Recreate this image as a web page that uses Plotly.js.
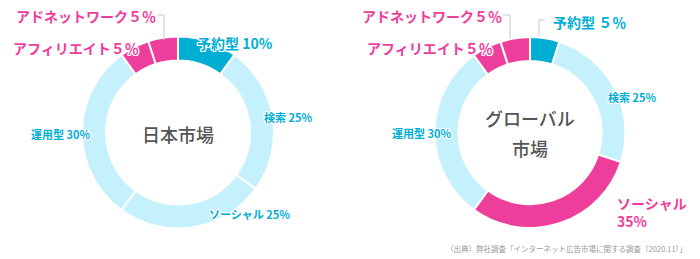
<!DOCTYPE html>
<html><head><meta charset="utf-8">
<script src="https://cdn.plot.ly/plotly-3.0.1.min.js"></script>
<style>html,body{margin:0;padding:0;background:#fff}#chart{width:700px;height:259px}</style>
</head><body><div id="chart"></div>
<script>
// Data
const categories = ["予約型", "検索", "ソーシャル", "運用型", "アフィリエイト", "アドネットワーク"];
const japanValues = [10, 25, 25, 30, 5, 5];
const globalValues = [5, 25, 30, 30, 5, 5];   // drawn slice sizes
const japanLabels = ["予約型 10%", "検索 25%", "ソーシャル 25%", "運用型 30%", "アフィリエイト５％", "アドネットワーク５％"];
const globalLabels = ["予約型 ５％", "検索 25%", "ソーシャル<br>35%", "運用型 30%", "アフィリエイト５％", "アドネットワーク５％"];
const centerTitles = ["日本市場", "グローバル", "市場"];
const sourceNote = "（出典）弊社調査「インターネット広告市場に関する調査（2020.11）」";

const W = 700, H = 259;
const DARK = "#00AED4", LIGHT = "#C5F1FC", PINK = "#EE3E9C";
const FONT = "Noto Sans CJK JP";
const japanColors = [DARK, LIGHT, LIGHT, LIGHT, PINK, PINK];
const globalColors = [DARK, LIGHT, PINK, LIGHT, PINK, PINK];
const SH = "1px 1px 0 #fff, -1px -1px 0 #fff, 1px -1px 0 #fff, -1px 1px 0 #fff, 0 1px 0 #fff, 0 -1px 0 #fff, 1px 0 0 #fff, -1px 0 0 #fff";

function px(x) { return x / W; }
function py(y) { return 1 - y / H; }

function pie(values, colors, cx, cy, r, name) {
  return {
    type: "pie", values: values, labels: categories, name: name,
    marker: { colors: colors, line: { color: "#fff", width: 2 } },
    hole: 0.75, sort: false, direction: "clockwise", rotation: 0,
    textinfo: "none", hoverinfo: "label+value", showlegend: false,
    domain: { x: [px(cx - r), px(cx + r)], y: [py(cy + r), py(cy - r)] }
  };
}

function ann(text, x, y, size, color, opts) {
  return Object.assign({
    text: text, x: px(x), y: py(y), xref: "paper", yref: "paper",
    xanchor: "left", yanchor: "middle", showarrow: false,
    font: { family: FONT, size: size, color: color, weight: 700, shadow: SH }
  }, opts || {});
}
function center(text, x, y) {
  return ann(text, x, y, 18, "#555", { xanchor: "center", font: { family: FONT, size: 18, color: "#555", weight: 500 } });
}

const annotations = [
  // Japan
  ann(japanLabels[5], 14, 16, 14, PINK),
  ann(japanLabels[4], 11, 48, 14, PINK),
  ann(japanLabels[0], 195, 43, 14, DARK),
  ann(japanLabels[1], 262, 117, 11, DARK),
  ann(japanLabels[3], 29, 134, 11, DARK),
  ann(japanLabels[2], 207, 214, 11, DARK),
  center(centerTitles[0], 178, 134),
  // Global
  ann(globalLabels[5], 360, 16, 14, PINK),
  ann(globalLabels[4], 365, 48, 14, PINK),
  ann(globalLabels[0], 551, 22, 14, DARK),
  ann(globalLabels[1], 606, 97, 11, DARK),
  ann(globalLabels[3], 390, 133, 11, DARK),
  ann(globalLabels[2], 615, 212, 14, PINK, { align: "left" }),
  center(centerTitles[1], 530, 118),
  center(centerTitles[2], 530, 148),
  ann(sourceNote, 689, 248, 7.5, "#999", { xanchor: "right", font: { family: FONT, size: 7.5, color: "#999" } })
];

function path(pts) {
  return pts.map((p, i) => (i ? "L" : "M") + px(p[0]) + "," + py(p[1])).join(" ");
}
const lineStyle = { color: "#c8c8c8", width: 1 };
const shapes = [
  { type: "path", xref: "paper", yref: "paper", path: path([[158, 15], [164, 15], [164, 40]]), line: lineStyle },
  { type: "path", xref: "paper", yref: "paper", path: path([[503, 15], [510, 15], [510, 39]]), line: lineStyle },
  { type: "path", xref: "paper", yref: "paper", path: path([[539, 36], [539, 20], [545, 20]]), line: lineStyle }
];

Plotly.newPlot("chart", [
  pie(japanValues, japanColors, 178, 132.5, 96, "日本市場"),
  pie(globalValues, globalColors, 530, 132.5, 95.5, "グローバル市場")
], {
  width: W, height: H, margin: { l: 0, r: 0, t: 0, b: 0 },
  paper_bgcolor: "#fff", plot_bgcolor: "#fff",
  annotations: annotations, shapes: shapes,
  font: { family: FONT }
}, { displayModeBar: false, staticPlot: true });
</script>
</body></html>
